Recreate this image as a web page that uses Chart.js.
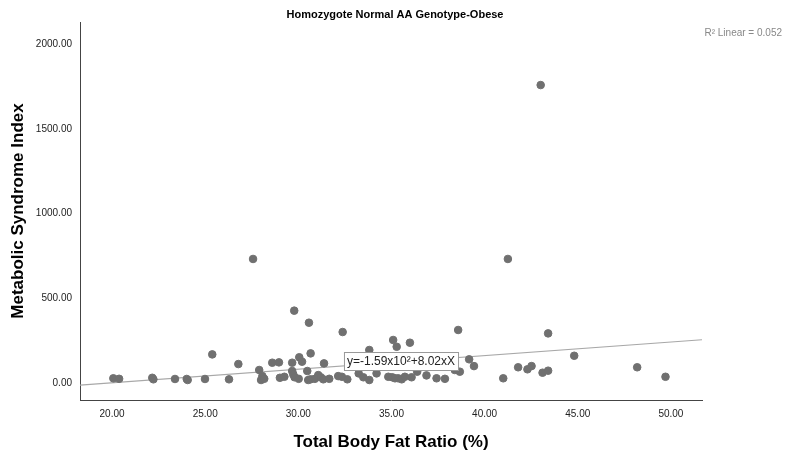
<!DOCTYPE html>
<html><head><meta charset="utf-8">
<script src="https://cdn.jsdelivr.net/npm/chart.js@4"></script>
<style>html,body{margin:0;padding:0;background:#fff}#w{width:790px;height:457px}</style>
</head><body><div id="w"><canvas id="c"></canvas></div>
<script>
const bodyFat = [20.07,20.38,22.16,22.22,23.38,24.01,24.06,24.99,26.28,25.38,26.78,28.60,28.96,29.67,30.05,30.20,30.66,29.78,30.57,32.38,27.90,28.07,28.00,28.17,29.01,29.25,29.67,29.73,29.80,30.02,30.48,30.53,30.66,30.89,31.07,31.21,31.34,31.66,31.38,32.14,32.34,32.63,33.24,33.49,33.81,33.81,34.20,34.83,35.04,35.09,35.28,35.36,35.99,38.58,43.41,44.81,39.17,39.43,38.40,38.67,41.80,42.30,42.52,43.11,43.41,41.00,48.19,49.71,36.38,36.88,37.42,37.87,35.19,35.55,36.08,35.72,43.01,41.25,27.57];
const msIndex = [28,25,31,22,24,24,18,24,22,169,112,120,122,120,152,126,175,427,356,301,77,41,18,25,31,37,71,51,34,25,71,18,22,25,47,34,22,25,116,41,37,22,57,34,195,18,57,37,34,254,214,28,238,313,293,161,140,100,77,67,93,81,100,61,73,28,93,37,67,45,28,25,28,22,34,37,1758,732,732];
const fitIntercept = -159, fitSlope = 8.02;
const xRange = [18.28, 51.67];
const yTicks = [0,500,1000,1500,2000];
const xTicks = [20,25,30,35,40,45,50];

const pts = bodyFat.map((x,i)=>({x, y: msIndex[i]}));
const fitLine = xRange.map(x=>({x, y: fitIntercept + fitSlope*x}));

const overlay = {
  id:'overlay',
  afterDraw(ch){
    const c=ch.ctx, xs=ch.scales.x, ys=ch.scales.y;
    c.save();
    c.fillStyle='#000'; c.font='bold 11px "Liberation Sans", Arial'; c.textAlign='center'; c.textBaseline='middle';
    c.fillText('Homozygote Normal AA Genotype-Obese', 395, 15);
    c.fillStyle='#888'; c.font='10px "Liberation Sans", Arial'; c.textAlign='right';
    c.fillText('R\u00b2 Linear = 0.052', 782, 33);
    const lx = xs.getPixelForValue(32.45), ly = ys.getPixelForValue(130);
    c.font='12px "Liberation Sans", Arial'; c.textAlign='left';
    const t='y=-1.59x10\u00b2+8.02xX'; const w=c.measureText(t).width;
    c.fillStyle='#fff'; c.fillRect(lx, ly-9, w+6, 18);
    c.strokeStyle='#999'; c.lineWidth=1; c.strokeRect(lx+0.5, ly-9+0.5, w+6, 18);
    c.fillStyle='#222'; c.fillText(t, lx+3, ly+1);
    c.restore();
  }
};

new Chart(document.getElementById('c'), {
  type:'scatter',
  data:{datasets:[
    {data:pts, backgroundColor:'#707070', borderColor:'#707070', pointRadius:3.8, pointHoverRadius:3.8, order:1},
    {type:'line', data:fitLine, borderColor:'#a8a8a8', borderWidth:1.2, pointRadius:0, fill:false, order:2}
  ]},
  options:{
    responsive:true, maintainAspectRatio:false, animation:false,
    layout:{padding:{top:22,right:88,left:4,bottom:0}},
    plugins:{legend:{display:false}, tooltip:{enabled:false}},
    scales:{
      x:{type:'linear', min:xRange[0], max:xRange[1],
        afterBuildTicks(s){ s.ticks = xTicks.map(v=>({value:v})); },
        afterFit(s){ s.height=57; },
        grid:{display:false, drawTicks:true, tickLength:4, color:'#444'},
        border:{color:'#444'},
        ticks:{color:'#222', font:{size:10, family:'"Liberation Sans", Arial'}, callback:v=>v.toFixed(2), padding:4},
        title:{display:true, text:'Total Body Fat Ratio (%)', color:'#000', font:{size:17, weight:'bold', family:'"Liberation Sans", Arial'}, padding:{top:12}}
      },
      y:{type:'linear', min:-100, max:2130,
        afterBuildTicks(s){ s.ticks = yTicks.map(v=>({value:v})); },
        afterFit(s){ s.width=76; },
        grid:{display:false, drawTicks:true, tickLength:4, color:'#444'},
        border:{color:'#444'},
        ticks:{color:'#222', font:{size:10, family:'"Liberation Sans", Arial'}, callback:v=>v.toFixed(2), padding:4},
        title:{display:true, text:'Metabolic Syndrome Index', color:'#000', font:{size:17, weight:'bold', family:'"Liberation Sans", Arial'}, padding:{bottom:4}}
      }
    }
  },
  plugins:[overlay]
});
</script></body></html>
